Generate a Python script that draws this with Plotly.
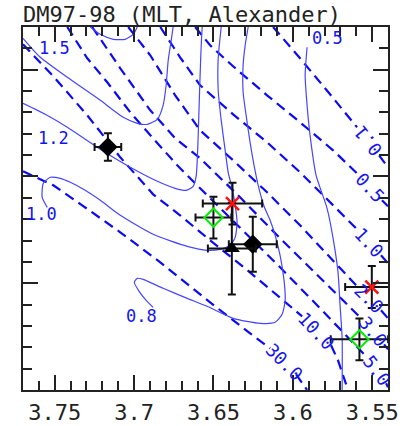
import plotly.graph_objects as go

# ---------------- data (log Teff, log L) ----------------
title_text = "DM97-98 (MLT, Alexander)"

# isochrones (Myr) - dashed
iso_names = ["0.1", "0.5", "1.0", "2.0", "3.0", "5.0", "10.0", "30.0"]
iso_01_x = [3.6124, 3.5954, 3.5765, 3.5595, None, 3.5456, 3.5400]
iso_01_y = [0.700, 0.5534, 0.3848, 0.2303, None, 0.0991, 0.0429]
iso_05_x = [3.6615, 3.6521, 3.6376, 3.6162, 3.5954, 3.5746, 3.5589, None, 3.5438, 3.5400]
iso_05_y = [0.700, 0.6143, 0.5160, 0.3801, 0.2537, 0.1225, 0.0101, None, -0.1117, -0.1398]
iso_1_x = [3.6835, 3.6710, 3.6584, 3.6376, 3.6162, 3.5954, 3.5733, 3.5589, None, 3.5444, 3.5400]
iso_1_y = [0.700, 0.5581, 0.4270, 0.2912, 0.1600, 0.0195, -0.1445, -0.2522, None, -0.3693, -0.4067]
iso_2_x = [3.7037, 3.6898, 3.6741, 3.6584, 3.6376, 3.6162, 3.5954, 3.5733, 3.5589, None, 3.5444, 3.5400]
iso_2_y = [0.700, 0.5675, 0.3801, 0.2162, 0.0757, -0.0742, -0.2288, -0.4021, -0.5192, None, -0.6269, -0.6644]
iso_3_x = [3.7264, 3.7087, 3.6898, 3.6741, 3.6584, 3.6332, 3.6080, 3.5828, 3.5671, 3.5563, None, 3.5425, 3.5400]
iso_3_y = [0.700, 0.5066, 0.3099, 0.1787, 0.0851, -0.0976, -0.2896, -0.4770, -0.5894, -0.6690, None, -0.7861, -0.8095]
iso_5_x = [3.7421, 3.7295, 3.7169, 3.7024, 3.6880, 3.6728, 3.6584, 3.6332, 3.6080, 3.5828, 3.5626, 3.5538, None, 3.5412, 3.5400]
iso_5_y = [0.700, 0.5534, 0.4410, 0.3005, 0.1787, 0.0523, -0.0555, -0.2381, -0.4255, -0.6175, -0.7721, -0.8423, None, -0.9688, -0.9875]
iso_10_x = [3.7700, 3.7509, 3.7295, 3.7087, 3.6880, 3.6710, 3.6521, 3.6300, 3.6061, 3.5941, None, 3.5759, 3.5715, 3.5652]
iso_10_y = [0.6190, 0.4691, 0.2865, 0.0897, -0.0836, -0.1819, -0.2990, -0.4302, -0.5800, -0.6550, None, -0.7908, -0.8611, -1.0]
iso_30_x = [3.7700, 3.7509, 3.7327, 3.7087, 3.6835, 3.6521, 3.6269, 3.6143, None, 3.5979, 3.5954, 3.5910]
iso_30_y = [0.0242, -0.0414, -0.1351, -0.2615, -0.4021, -0.5894, -0.7346, -0.8049, None, -0.9266, -0.9547, -1.0]
iso_label_x = [3.5526, 3.5513, 3.5519, 3.5519, 3.5494, 3.5469, 3.5853, 3.6055]
iso_label_y = [0.1647, -0.0508, -0.3084, -0.5707, -0.7252, -0.9079, -0.7206, -0.8658]

# mass tracks (Msun) - solid
mass_names = ["1.5", "1.2", "1.0", "0.8", "0.5"]
m15_x = [3.7700, 3.7591, 3.7421, 3.7213, 3.7068, 3.6980, 3.6917, 3.6854, 3.6817, 3.6798, 3.6785, 3.6766, 3.6754]
m15_y = [0.6471, 0.5581, 0.4645, 0.3567, 0.2771, 0.2490, 0.2443, 0.2677, 0.3333, 0.4270, 0.5441, 0.6377, 0.700]
mtop_x = [3.7276, 3.7213, 3.7131, 3.7056, 3.7005, 3.6980]
mtop_y = [0.700, 0.6659, 0.6424, 0.6424, 0.6659, 0.700]
m12_x = [3.7700, 3.7560, 3.7421, 3.7213, 3.7024, 3.6867, 3.6741, 3.6672, 3.6628, 3.6609, 3.6602, 3.6596, 3.6590, 3.6584, 3.6577, 3.6571]
m12_y = [0.3427, 0.2912, 0.2303, 0.1272, 0.0429, -0.0180, -0.0555, -0.0648, -0.0461, 0.0008, 0.0757, 0.1928, 0.3333, 0.4738, 0.6143, 0.700]
m10_x = [3.7547, 3.7579, 3.7572, 3.7528, 3.7465, 3.7402, 3.7308, 3.7213, 3.7087, 3.6880, 3.6665, 3.6540,
         3.6458, 3.6395, 3.6363, 3.6351, 3.6363, 3.6382, 3.6407, 3.6426, 3.6451, 3.6470, 3.6470, 3.6451]
m10_y = [-0.1445, -0.0976, -0.0320, -0.0039, -0.0086, -0.0274, -0.0648, -0.1117, -0.1819, -0.2709, -0.3271, -0.3459,
         -0.3412, -0.3224, -0.2850, -0.2147, -0.1351, -0.0555, 0.0195, 0.1225, 0.2630, 0.4036, 0.5534, 0.700]
m08_x = [3.6880, 3.6924, 3.6968, 3.6999, 3.6980, 3.6943, 3.6817, 3.6665, 3.6540, 3.6376, 3.6206, 3.6111, 3.6067, 3.6048,
         3.6055, 3.6080, 3.6111, 3.6143, 3.6181, 3.6218, 3.6244, 3.6269, 3.6294, 3.6313, 3.6313, 3.6300, 3.6281]
m08_y = [-0.6128, -0.5800, -0.5379, -0.4957, -0.4770, -0.4817, -0.5238, -0.5707, -0.6081, -0.6644, -0.6878, -0.6831, -0.6456, -0.5800,
         -0.4864, -0.3693, -0.2756, -0.2053, -0.1398, -0.0414, 0.0523, 0.1600, 0.2865, 0.3942, 0.5207, 0.6143, 0.700]
m05_x = [3.5910, 3.5922, 3.5910, 3.5891, 3.5853, 3.5784, 3.5746, 3.5715, 3.5702, 3.5689, 3.5689]
m05_y = [0.6050, 0.4738, 0.3333, 0.1928, 0.0054, -0.1491, -0.2896, -0.4489, -0.6035, -0.7580, -1.0]
mass_label_x = [3.7503, 3.7509, 3.7585, 3.6955, 3.5784]
mass_label_y = [0.6003, 0.1787, -0.1772, -0.6550, 0.6471]

# stars
dia_x = [3.7165, 3.6252]
dia_y = [0.1380, -0.3177]
dia_ex = [0.0084, 0.0151]
dia_ey = [0.064, 0.129]
tri_x = [3.6384]
tri_y = [-0.3379]
tri_ex = [0.0151]
tri_ey = [0.215]
grn_x = [3.6500, 3.5580]
grn_y = [-0.1927, -0.7627]
grn_ex = [0.0113, 0.0181]
grn_ey = [0.098, 0.098]
red_x = [3.6380, 3.5502]
red_y = [-0.1271, -0.5177]
red_ex = [0.0187, 0.0168]
red_ey = [0.098, 0.098]

xtick_vals = [3.75, 3.70, 3.65, 3.60, 3.55]
xtick_text = ["3.75", "3.7", "3.65", "3.6", "3.55"]

# ---------------- styles ----------------
iso_angles = [-129, 47, 47, 45, 51, 53, 47, 45]
DASH_COL = "#0a0af5"
SOLID_COL = "#4646ff"
LAB_COL = "#1414f0"
AX_COL = "#222222"
MONO = "DejaVu Sans Mono"

fig = go.Figure()

iso_x = [iso_01_x, iso_05_x, iso_1_x, iso_2_x, iso_3_x, iso_5_x, iso_10_x, iso_30_x]
iso_y = [iso_01_y, iso_05_y, iso_1_y, iso_2_y, iso_3_y, iso_5_y, iso_10_y, iso_30_y]
for xs, ys in zip(iso_x, iso_y):
    fig.add_trace(go.Scatter(x=xs, y=ys, mode="lines", connectgaps=False,
                             line=dict(color=DASH_COL, width=2.2, dash="10px,6px"),
                             hoverinfo="skip", showlegend=False))

for xs, ys in [(m15_x, m15_y), (mtop_x, mtop_y), (m12_x, m12_y), (m10_x, m10_y), (m08_x, m08_y), (m05_x, m05_y)]:
    fig.add_trace(go.Scatter(x=xs, y=ys, mode="lines", line=dict(color=SOLID_COL, width=1.2, shape="spline", smoothing=0.6),
                             hoverinfo="skip", showlegend=False))

err_style = dict(color="#111111", thickness=2, width=4)

fig.add_trace(go.Scatter(x=dia_x, y=dia_y, mode="markers",
                         marker=dict(symbol="diamond", size=15, color="black"),
                         error_x=dict(type="data", array=dia_ex, **err_style),
                         error_y=dict(type="data", array=dia_ey, **err_style), showlegend=False))
fig.add_trace(go.Scatter(x=tri_x, y=tri_y, mode="markers",
                         marker=dict(symbol="triangle-up", size=14, color="black"),
                         error_x=dict(type="data", array=tri_ex, **err_style),
                         error_y=dict(type="data", array=tri_ey, **err_style), showlegend=False))
fig.add_trace(go.Scatter(x=grn_x, y=grn_y, mode="markers",
                         marker=dict(symbol="diamond-open", size=14, color="#00ee00", line=dict(width=2, color="#00ee00")),
                         error_x=dict(type="data", array=grn_ex, **err_style),
                         error_y=dict(type="data", array=grn_ey, **err_style), showlegend=False))
fig.add_trace(go.Scatter(x=red_x, y=red_y, mode="markers",
                         marker=dict(symbol="x-thin-open", size=13, color="#ff1010", line=dict(width=2.5, color="#ff1010")),
                         error_x=dict(type="data", array=red_ex, **err_style),
                         error_y=dict(type="data", array=red_ey, **err_style), showlegend=False))

ann = []
for t, x, y, a in zip(iso_names, iso_label_x, iso_label_y, iso_angles):
    ann.append(dict(x=x, y=y, xref="x", yref="y", text=t, showarrow=False, textangle=a,
                    font=dict(family=MONO, size=18, color=LAB_COL)))
for t, x, y in zip(mass_names, mass_label_x, mass_label_y):
    ann.append(dict(x=x, y=y, xref="x", yref="y", text=t, showarrow=False,
                    font=dict(family=MONO, size=17, color=LAB_COL)))
ann.append(dict(x=0, y=1, xref="paper", yref="paper", text=title_text, showarrow=False,
                xanchor="left", yanchor="bottom", xshift=-2, yshift=-2,
                font=dict(family=MONO, size=22, color=AX_COL)))

axis_common = dict(showline=True, linewidth=2, linecolor=AX_COL, mirror="allticks",
                   ticks="inside", ticklen=15, tickwidth=2, tickcolor=AX_COL,
                   showgrid=False, zeroline=False, automargin=False)

fig.update_layout(
    width=416, height=426,
    margin=dict(l=23, r=28, t=27, b=36),
    paper_bgcolor="white", plot_bgcolor="white",
    annotations=ann,
    xaxis=dict(range=[3.77, 3.54], tickmode="array", tickvals=xtick_vals, ticktext=xtick_text,
               tickfont=dict(family=MONO, size=22, color=AX_COL), ticklabelstandoff=2,
               minor=dict(ticks="inside", ticklen=9, tickwidth=2, tickcolor=AX_COL, tickmode="linear", tick0=3.55, dtick=0.01),
               **axis_common),
    yaxis=dict(range=[-1.0, 0.7], tickmode="linear", tick0=0, dtick=0.5, showticklabels=False,
               minor=dict(ticks="inside", ticklen=9, tickwidth=2, tickcolor=AX_COL, tickmode="linear", tick0=0, dtick=0.1),
               **axis_common),
)

fig.write_html("out.html")
